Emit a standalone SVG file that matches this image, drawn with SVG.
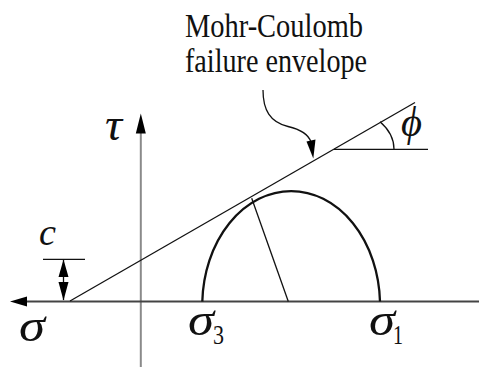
<svg xmlns="http://www.w3.org/2000/svg" width="479" height="367" viewBox="0 0 479 367">
<style>
.ln{fill:none;stroke:#111;stroke-width:1.3}
.thick{fill:none;stroke:#111;stroke-width:2.3}
.ah{fill:#000;stroke:none}
.t{font-family:"Liberation Serif","Times New Roman",serif;fill:#111}
.i{font-family:"Liberation Serif","Times New Roman",serif;font-style:italic;fill:#111}
</style>
<rect width="479" height="367" fill="#fff"/>
<g id="axes">
<line x1="140.8" y1="130" x2="140.8" y2="367" stroke="#8a8a8a" stroke-width="2"/>
<polygon class="ah" points="140.8,113.5 135.8,133.5 145.8,133.5"/>
<line x1="24" y1="301.5" x2="479" y2="301.5" stroke="#444" stroke-width="2"/>
<polygon class="ah" points="10,301.5 27,296.5 27,306.5"/>
</g>
<g id="connectors">
<line class="ln" x1="70" y1="301" x2="415" y2="102.5"/>
<line class="ln" x1="334" y1="149.3" x2="428" y2="149.3"/>
<path class="ln" d="M394 149.3 A60.5 43 0 0 0 380 121.7"/>
<path class="ln" d="M263 90 C263 110 270 122 288 126.5 C303 130 309 136 311 142"/>
<polygon class="ah" points="306.5,141.5 315.5,139.5 313.3,158.5"/>
<line class="ln" x1="288.3" y1="301.5" x2="251.7" y2="198.3"/>
<line class="ln" x1="43" y1="259.3" x2="85" y2="259.3"/>
<line class="ln" x1="63.5" y1="260" x2="63.5" y2="300"/>
<polygon class="ah" points="63.5,259.5 58.5,277 68.5,277"/>
<polygon class="ah" points="63.5,300.5 58.5,282 68.5,282"/>
</g>
<g id="mohr-circle">
<path class="thick" d="M202.3 301.5 A88.9 114.2 0 0 1 380 301.5"/>
</g>
<g id="labels">
<text class="t" x="185" y="36.5" font-size="33" textLength="178" lengthAdjust="spacingAndGlyphs">Mohr-Coulomb</text>
<text class="t" x="185" y="71.5" font-size="33" textLength="182" lengthAdjust="spacingAndGlyphs">failure envelope</text>
<text class="i" x="105" y="140" font-size="46" textLength="17" lengthAdjust="spacingAndGlyphs">τ</text>
<text class="i" x="401" y="136" font-size="42" textLength="21" lengthAdjust="spacingAndGlyphs">ϕ</text>
<text class="i" x="39" y="245" font-size="38" textLength="17" lengthAdjust="spacingAndGlyphs">c</text>
<text class="i" x="19" y="341" font-size="46" textLength="26" lengthAdjust="spacingAndGlyphs">σ</text>
<text class="i" x="188" y="335" font-size="46" textLength="26" lengthAdjust="spacingAndGlyphs">σ</text>
<text class="t" x="213" y="344" font-size="28" textLength="11" lengthAdjust="spacingAndGlyphs">3</text>
<text class="i" x="369" y="335" font-size="46" textLength="26" lengthAdjust="spacingAndGlyphs">σ</text>
<text class="t" x="393" y="344" font-size="28" textLength="10" lengthAdjust="spacingAndGlyphs">1</text>
</g>
</svg>
